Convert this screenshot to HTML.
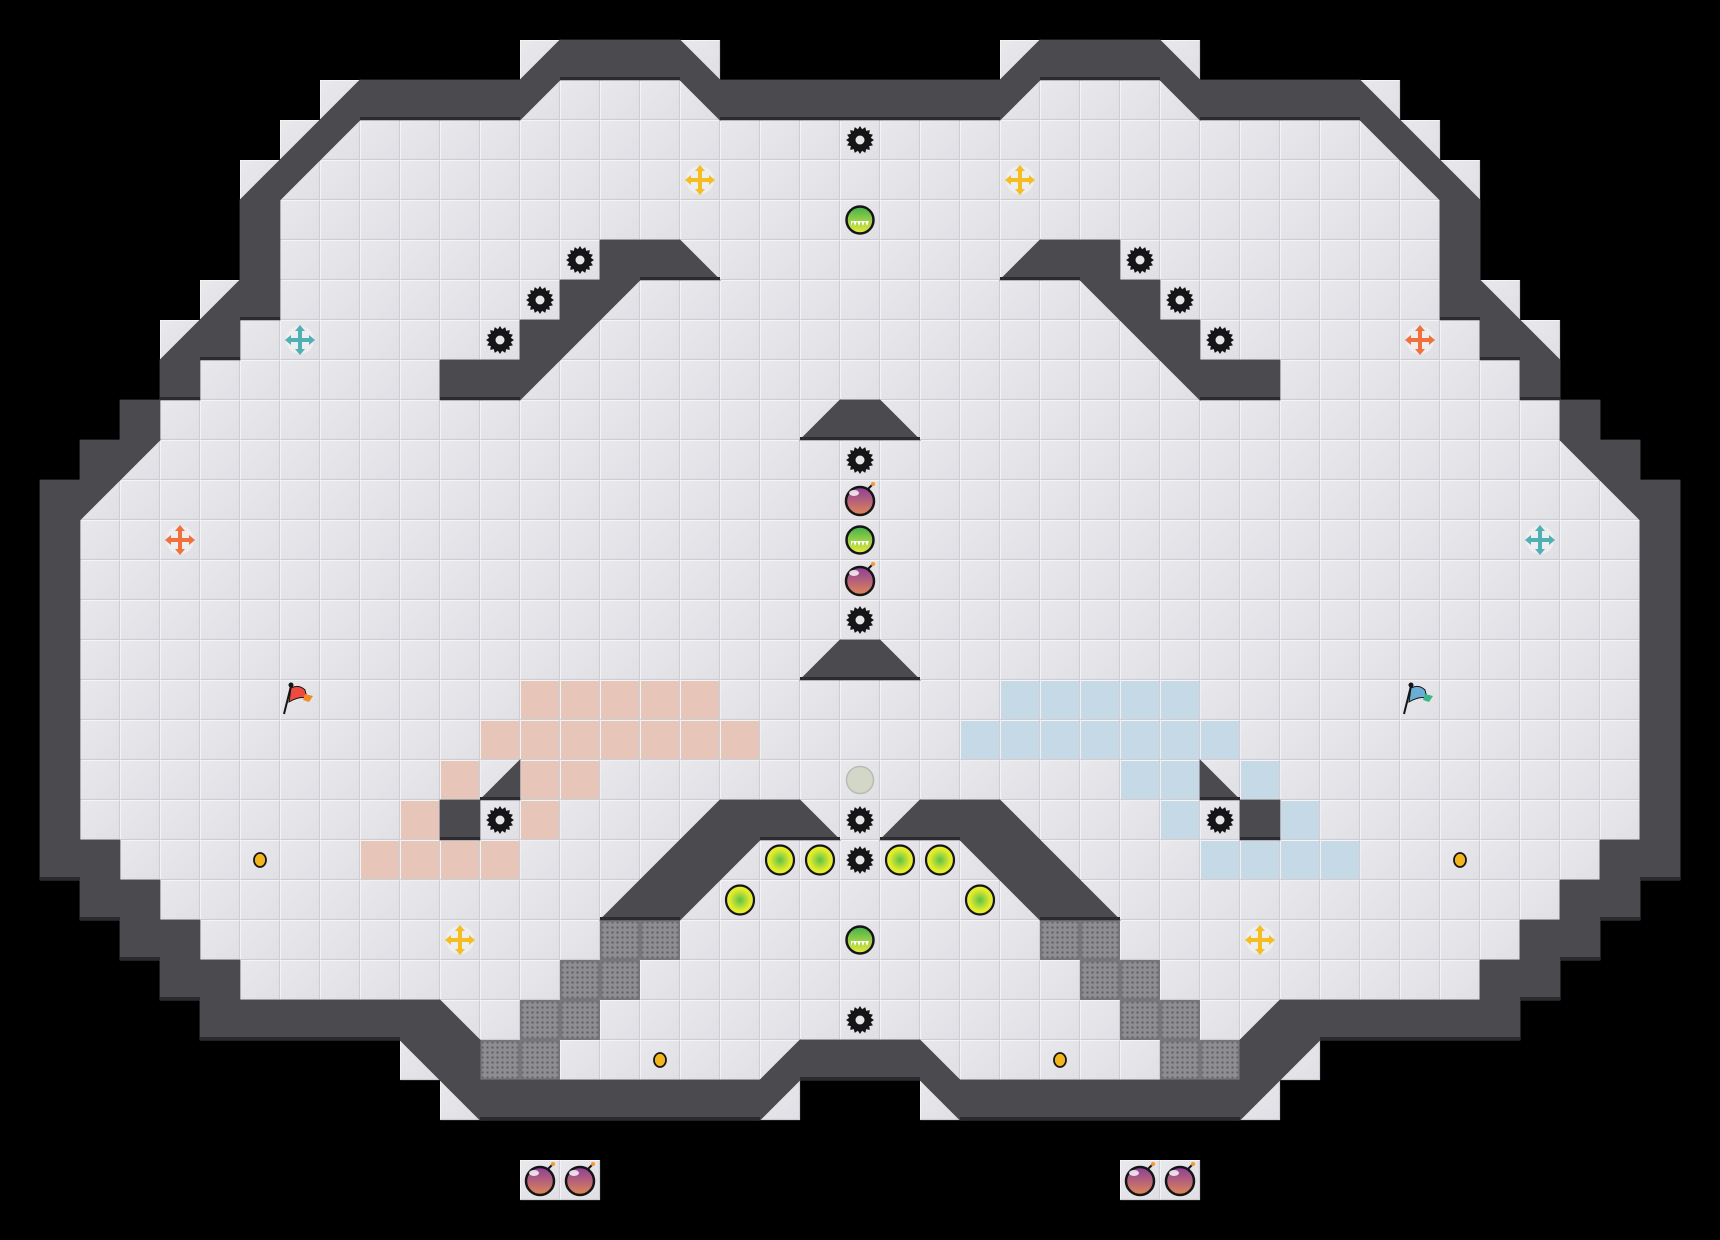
<!DOCTYPE html>
<html><head><meta charset="utf-8"><style>
html,body{margin:0;padding:0;background:#000;}
svg{display:block}
</style></head><body>
<svg id="s" xmlns="http://www.w3.org/2000/svg" width="1720" height="1240" viewBox="0 0 1720 1240">
<defs>
<linearGradient id="tile" x1="0" y1="0" x2="1" y2="1">
<stop offset="0" stop-color="#e9e9ed"/><stop offset="1" stop-color="#dfdfe4"/></linearGradient>
<radialGradient id="yb" cx="0.5" cy="0.5" r="0.5"><stop offset="0" stop-color="#5cc24a"/><stop offset="0.75" stop-color="#e4ec2c"/></radialGradient>
<linearGradient id="gb" x1="0" y1="0" x2="0" y2="1"><stop offset="0" stop-color="#3fb24f"/><stop offset="1" stop-color="#eaea3a"/></linearGradient>
<linearGradient id="pb" x1="0" y1="0" x2="0" y2="1"><stop offset="0" stop-color="#8c3f9c"/><stop offset="1" stop-color="#e08656"/></linearGradient>
<pattern id="dots" width="5" height="5" patternUnits="userSpaceOnUse"><rect width="5" height="5" fill="#8e8e92"/><rect x="1.5" y="1.5" width="2" height="2" fill="#5f5f63"/></pattern>
</defs>
<rect width="1720" height="1240" fill="#000"/>
<g id="g"></g>
</svg>
<script>
var L=[
"......................",
".............x###z....",
"........x####qfffw####",
".......xqfffffffffffff",
"......xqffffffffffffff",
"......#fffffffffffffff",
"......#ffffffff##zffff",
".....x#fffffff#qffffff",
"....x#fffffff#qfffffff",
"....#ffffff##qffffffff",
"...#ffffffffffffffffx#",
"..#qffffffffffffffffff",
".#qfffffffffffffffffff",
".#ffffffffffffffffffff",
".#ffffffffffffffffffff",
".#ffffffffffffffffffff",
".#ffffffffffffffffffx#",
".#ffffffffffffffffffff",
".#ffffffffffffffffffff",
".#ffffffffffxfffffffff",
".#fffffffff#fffffx##zf",
".##fffffffffffffx#qfff",
"..##fffffffffffx#qffff",
"...##fffffffffffffffff",
"....##ffffffffffffffff",
".....######zffffffffff",
"..........w#fffffffx##",
"...........w#######q..",
"......................",
"......................",
"......................"];
var M={q:'w',w:'q',z:'x',x:'z','#':'#','f':'f','.':'.'};
var G=[];
for(var r=0;r<31;r++){var s=L[r],row=s.split('');for(var c=20;c>=0;c--)row.push(M[s[c]]);G.push(row);}
var T=40,out=[];
function cell(c,r,fill,extra){out.push('<rect x="'+c*T+'" y="'+r*T+'" width="40" height="40" fill="'+fill+'" '+(extra||'')+'/>');}
function tile(c,r,col){var x=c*T,y=r*T;
out.push('<rect x="'+x+'" y="'+y+'" width="40" height="40" fill="'+(col||'url(#tile)')+'"/>');
out.push('<path d="M'+(x+0.5)+' '+(y+39.5)+'V'+(y+0.5)+'H'+(x+39.5)+'" stroke="#f4f4f7" stroke-width="1" fill="none"/>');
out.push('<path d="M'+(x+0.5)+' '+(y+39.5)+'H'+(x+39.5)+'V'+(y+0.5)+'" stroke="#cdcdd3" stroke-width="1.2" fill="none"/>');}
for(var r=0;r<31;r++)for(var c=0;c<43;c++){if(G[r][c]!='.')tile(c,r);}
[[13,29],[14,29],[28,29],[29,29]].forEach(function(p){tile(p[0],p[1]);});
// pink & blue
var pink=[[17,13,17],[18,12,18],[19,11,11],[19,13,14],[20,10,10],[20,13,13],[21,9,12]];
pink.forEach(function(p){for(var c=p[1];c<=p[2];c++){tile(c,p[0],'#e7c6b9');tile(42-c,p[0],'#c6d9e7');}});
// grates
[[23,15],[23,16],[24,14],[24,15],[25,13],[25,14],[26,12],[26,13]].forEach(function(p){
[p[1],42-p[1]].forEach(function(c){var x=c*T,y=p[0]*T;out.push('<rect x="'+(x+1)+'" y="'+(y+1)+'" width="38" height="38" fill="url(#dots)" stroke="#77777b" stroke-width="2"/>');});});
// walls
var W='#4a4a4f',S='stroke="#4a4a4f" stroke-width="0.8"';
for(var r=0;r<31;r++)for(var c=0;c<43;c++){var k=G[r][c],x=c*T,y=r*T,p=null;
if(k=='#')p=[[x,y],[x+40,y],[x+40,y+40],[x,y+40]];
else if(k=='q')p=[[x,y],[x+40,y],[x,y+40]];
else if(k=='w')p=[[x,y],[x+40,y],[x+40,y+40]];
else if(k=='z')p=[[x,y],[x+40,y+40],[x,y+40]];
else if(k=='x')p=[[x+40,y],[x+40,y+40],[x,y+40]];
if(p)out.push('<polygon points="'+p.join(' ')+'" fill="'+W+'" '+S+'/>');}
// edge shading: bottom edges of dark where below is not dark
for(var r=0;r<30;r++)for(var c=0;c<43;c++){var k=G[r][c];if((k=='#'||k=='z'||k=='x')){var b=G[r+1][c];if(b=='f'||b=='.'||b=='z'||b=='x'||b=='w'&&false){out.push('<rect x="'+c*T+'" y="'+(r*T+37)+'" width="40" height="3" fill="#2c2c30"/>');}}}
function gear(c,r){var cx=c*T+20,cy=r*T+20,pts=[];for(var i=0;i<32;i++){var a=i*Math.PI/16,rr=i%2?11:14;pts.push((cx+rr*Math.cos(a)).toFixed(1)+','+(cy+rr*Math.sin(a)).toFixed(1));}
out.push('<polygon points="'+pts.join(' ')+'" fill="#151517"/><circle cx="'+cx+'" cy="'+cy+'" r="4.5" fill="#e6e6ea"/>');}
function bomb(c,r){var cx=c*T+20,cy=r*T+21;out.push('<circle cx="'+cx+'" cy="'+cy+'" r="14" fill="url(#pb)" stroke="#151515" stroke-width="2.5"/><ellipse cx="'+(cx-6)+'" cy="'+(cy-8)+'" rx="5" ry="3" fill="#fff" opacity="0.8"/><path d="M'+(cx+8)+' '+(cy-12)+'l4 -4" stroke="#151515" stroke-width="2"/><circle cx="'+(cx+13)+'" cy="'+(cy-17)+'" r="2" fill="#f39a2e"/>');}
function green(c,r){var cx=c*T+20,cy=r*T+20;out.push('<circle cx="'+cx+'" cy="'+cy+'" r="13.5" fill="url(#gb)" stroke="#151515" stroke-width="2.5"/><path d="M'+(cx-9)+' '+(cy+1)+'h18l-2 5-2-5-2 5-2-5-2 5-2-5-2 5-2-5-2 5z" fill="#fff"/>');}
function yball(c,r){var cx=c*T+20,cy=r*T+20;out.push('<ellipse cx="'+cx+'" cy="'+cy+'" rx="14" ry="14.5" fill="url(#yb)" stroke="#151515" stroke-width="2.2"/>');}
function cross(c,r,col){var cx=c*T+20,cy=r*T+20;out.push('<circle cx="'+cx+'" cy="'+cy+'" r="14" fill="#f2f2f4" opacity="0.7"/><path d="M'+cx+' '+(cy-11)+'V'+(cy+11)+'M'+(cx-11)+' '+cy+'H'+(cx+11)+'" stroke="'+col+'" stroke-width="4"/><path d="M'+cx+' '+(cy-15)+'l-5 6h10zM'+cx+' '+(cy+15)+'l-5 -6h10zM'+(cx-15)+' '+cy+'l6 -5v10zM'+(cx+15)+' '+cy+'l-6 -5v10z" fill="'+col+'"/>');}
function coin(c,r){var cx=c*T+20,cy=r*T+20;out.push('<ellipse cx="'+cx+'" cy="'+cy+'" rx="6" ry="7" fill="#f3b51c" stroke="#151515" stroke-width="1.8"/>');}
function flag(c,r,col,col2){var x=c*T,y=r*T;out.push('<path d="M'+(x+4)+' '+(y+34)+'L'+(x+11)+' '+(y+6)+'" stroke="#151515" stroke-width="2"/><circle cx="'+(x+11)+'" cy="'+(y+5)+'" r="2.5" fill="#151515"/><path d="M'+(x+11)+' '+(y+8)+'q8 -4 14 2 l2 8 q-8 -2 -18 4z" fill="'+col+'" stroke="#151515" stroke-width="1"/><path d="M'+(x+25)+' '+(y+14)+'l8 2 -4 6 -6 -2z" fill="'+col2+'"/>');}
[[21,3],[14,6],[13,7],[12,8],[28,6],[29,7],[30,8],[21,11],[21,15],[21,20],[21,21],[21,25],[12,20],[30,20]].forEach(function(p){gear(p[0],p[1]);});
[[21,5],[21,13],[21,23]].forEach(function(p){green(p[0],p[1]);});
[[21,12],[21,14],[13,29],[14,29],[28,29],[29,29]].forEach(function(p){bomb(p[0],p[1]);});
out.push('<circle cx="860" cy="780" r="13.5" fill="#d2d7c8" stroke="#b9bcb3" stroke-width="1.5"/>');
[[19,21],[20,21],[22,21],[23,21],[18,22],[24,22]].forEach(function(p){yball(p[0],p[1]);});
[[17,4],[25,4],[11,23],[31,23]].forEach(function(p){cross(p[0],p[1],'#f5bd22');});
cross(7,8,'#4fb0b4');cross(38,13,'#4fb0b4');cross(4,13,'#f2703c');cross(35,8,'#f2703c');
[[6,21],[36,21],[16,26],[26,26]].forEach(function(p){coin(p[0],p[1]);});
flag(7,17,'#ef4a3e','#f28a2a');flag(35,17,'#6aaed6','#3bb58a');
document.getElementById('g').innerHTML=out.join('');
</script>
</body></html>
